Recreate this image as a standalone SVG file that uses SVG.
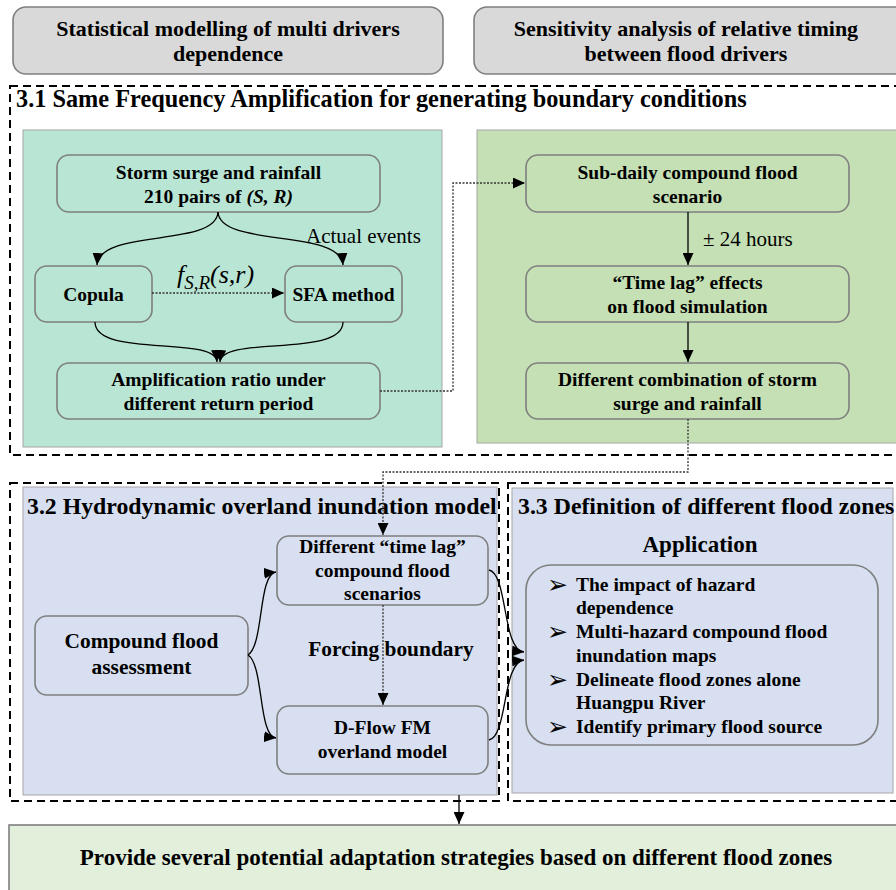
<svg xmlns="http://www.w3.org/2000/svg" width="896" height="890" viewBox="0 0 896 890">
<style>
text{font-family:"Liberation Serif","Times New Roman",serif;fill:#000}
.b{font-weight:bold;font-size:19.5px;text-anchor:middle}
.big{font-weight:bold;font-size:21.4px;text-anchor:middle}
.top{font-weight:bold;font-size:22px;text-anchor:middle}
.sec{font-weight:bold;font-size:23.8px}
.reg{font-size:21px}
.li{font-weight:bold;font-size:19.5px}
.bul{font-family:"DejaVu Sans",sans-serif;font-size:25px}
.box{stroke:#7f7f7f;stroke-width:1.6}
.dash{fill:none;stroke:#000;stroke-width:2;stroke-dasharray:8,5}
.panel{stroke:#a6a6a6;stroke-width:1}
.c{fill:none;stroke:#000;stroke-width:1.3}
.d{fill:none;stroke:#333;stroke-width:1.3;stroke-dasharray:2,1.5}
</style>
<defs>
<marker id="ah" markerUnits="userSpaceOnUse" markerWidth="13" markerHeight="11" refX="12" refY="5.5" orient="auto">
<path d="M0,0 L12,5.5 L0,11 z" fill="#000"/>
</marker>
</defs>
<rect width="896" height="890" fill="#fff"/>

<g id="top-left">
<rect class="box" x="13" y="7" width="430" height="67" rx="13" fill="#d9d9d9"/>
<text class="top" x="228" y="35.5">Statistical modelling of multi drivers</text>
<text class="top" x="228" y="60.5">dependence</text>
</g>
<g id="top-right">
<rect class="box" x="474" y="7" width="440" height="67" rx="13" fill="#d9d9d9"/>
<text class="top" x="686" y="35.5">Sensitivity analysis of relative timing</text>
<text class="top" x="686" y="60.5">between flood drivers</text>
</g>

<g id="section-3-1">
<rect class="dash" x="10" y="86" width="900" height="369"/>
<text class="sec" x="16" y="107" style="font-size:24.3px">3.1 Same Frequency Amplification for generating boundary conditions</text>
<rect class="panel" x="23" y="130" width="419" height="317" fill="#b9e5d4"/>
<rect class="panel" x="477" y="130" width="430" height="313" fill="#c5e0b4"/>
</g>

<g id="section-3-2">
<rect class="panel" x="23" y="487" width="474" height="308" fill="#d7dff0"/>
<rect class="dash" x="10" y="483" width="489" height="318"/>
<text class="sec" x="27" y="514">3.2 Hydrodynamic overland inundation model</text>
</g>
<g id="section-3-3">
<rect class="panel" x="512" y="488" width="381" height="305" fill="#d7dff0"/>
<rect class="dash" x="508" y="483" width="400" height="318"/>
<text class="sec" x="518" y="514">3.3 Definition of different flood zones</text>
</g>

<g id="storm">
<rect class="box" x="57" y="155" width="323" height="57" rx="12" fill="#b9e5d4"/>
<text class="b" x="218.5" y="178.5">Storm surge and rainfall</text>
<text class="b" x="218.5" y="202.5">210 pairs of <tspan font-style="italic">(S, R)</tspan></text>
</g>
<g id="copula">
<rect class="box" x="35" y="266" width="117" height="56" rx="12" fill="#b9e5d4"/>
<text class="b" x="93.5" y="301">Copula</text>
</g>
<g id="sfa">
<rect class="box" x="285" y="266" width="117" height="56" rx="12" fill="#b9e5d4"/>
<text class="b" x="343.5" y="301">SFA method</text>
</g>
<g id="amplification">
<rect class="box" x="57" y="363" width="323" height="56" rx="12" fill="#b9e5d4"/>
<text class="b" x="218.5" y="386">Amplification ratio under</text>
<text class="b" x="218.5" y="410">different return period</text>
</g>

<g id="subdaily">
<rect class="box" x="526" y="155" width="323" height="57" rx="12" fill="#c5e0b4"/>
<text class="b" x="687.5" y="178.5">Sub-daily compound flood</text>
<text class="b" x="687.5" y="202.5">scenario</text>
</g>
<g id="timelag">
<rect class="box" x="526" y="266" width="323" height="56" rx="12" fill="#c5e0b4"/>
<text class="b" x="687.5" y="289">“Time lag” effects</text>
<text class="b" x="687.5" y="313">on flood simulation</text>
</g>
<g id="combination">
<rect class="box" x="526" y="363" width="323" height="56" rx="12" fill="#c5e0b4"/>
<text class="b" x="687.5" y="386">Different combination of storm</text>
<text class="b" x="687.5" y="410">surge and rainfall</text>
</g>

<g id="scenarios">
<rect class="box" x="277" y="536" width="211" height="69" rx="12" fill="#d7dff0"/>
<text class="b" x="382.5" y="553">Different “time lag”</text>
<text class="b" x="382.5" y="577">compound flood</text>
<text class="b" x="382.5" y="600">scenarios</text>
</g>
<g id="dflow">
<rect class="box" x="277" y="706" width="211" height="68" rx="12" fill="#d7dff0"/>
<text class="b" x="382.5" y="734">D-Flow FM</text>
<text class="b" x="382.5" y="758">overland model</text>
</g>
<g id="assessment">
<rect class="box" x="35" y="616" width="213" height="79" rx="12" fill="#d7dff0"/>
<text class="big" x="141.5" y="648">Compound flood</text>
<text class="big" x="141.5" y="674">assessment</text>
</g>

<g id="application">
<text class="sec" x="700" y="552" text-anchor="middle" style="font-size:23px">Application</text>
<rect class="box" x="526" y="565" width="352" height="180" rx="25" fill="#d7dff0"/>
<text class="bul" x="547" y="593">➢</text>
<text class="li" x="576" y="591">The impact of hazard</text>
<text class="li" x="576" y="614">dependence</text>
<text class="bul" x="547" y="640">➢</text>
<text class="li" x="576" y="638">Multi-hazard compound flood</text>
<text class="li" x="576" y="662">inundation maps</text>
<text class="bul" x="547" y="688">➢</text>
<text class="li" x="576" y="686">Delineate flood zones alone</text>
<text class="li" x="576" y="709">Huangpu River</text>
<text class="bul" x="547" y="735">➢</text>
<text class="li" x="576" y="733">Identify primary flood source</text>
</g>

<g id="strategies">
<rect class="box" x="9" y="825" width="900" height="80" fill="#e2efda"/>
<text class="top" x="456" y="865" style="font-size:23px">Provide several potential adaptation strategies based on different flood zones</text>
</g>

<g id="connectors">
<path class="c" d="M218,212 C216,248 100,228 97,265" marker-end="url(#ah)"/>
<path class="c" d="M218,212 C220,248 340,228 343,265" marker-end="url(#ah)"/>
<path class="c" d="M95,322 C95,358 216,335 217,362" marker-end="url(#ah)"/>
<path class="c" d="M343,322 C343,358 222,335 220,362" marker-end="url(#ah)"/>
<path class="d" d="M152,293 L284,293" marker-end="url(#ah)"/>
<path class="d" d="M380,391 L453,391 L453,183 L525,183" marker-end="url(#ah)"/>
<path class="c" d="M688,212 L688,265" marker-end="url(#ah)"/>
<path class="c" d="M688,322 L688,362" marker-end="url(#ah)"/>
<path class="d" d="M688,419 L688,472 L383,472 L383,535" marker-end="url(#ah)"/>
<path class="d" d="M383,605 L383,705" marker-end="url(#ah)"/>
<path class="c" d="M248,655 C264,645 258,574 276,572" marker-end="url(#ah)"/>
<path class="c" d="M248,655 C264,665 258,736 276,738" marker-end="url(#ah)"/>
<path class="c" d="M489,570 C508,574 502,650 524,652" marker-end="url(#ah)"/>
<path class="c" d="M489,740 C508,736 502,662 524,660" marker-end="url(#ah)"/>
<path class="c" d="M459,795 L459,824" marker-end="url(#ah)"/>
<text class="reg" x="306" y="243">Actual events</text>
<text class="reg" x="703" y="246">± 24 hours</text>
<text x="177" y="283" font-style="italic" font-size="26">f<tspan font-size="19" dy="6">S,R</tspan><tspan dy="-6">(s,r)</tspan></text>
<text class="big" x="391" y="656">Forcing boundary</text>
</g>
</svg>
